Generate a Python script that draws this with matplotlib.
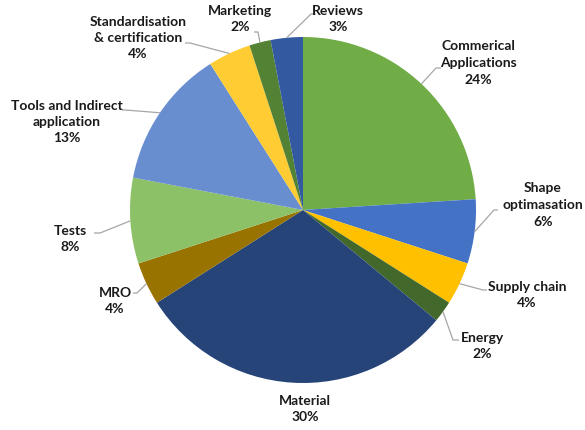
import matplotlib
matplotlib.use("Agg")
import matplotlib.pyplot as plt
import numpy as np

categories = ["Commerical\nApplications", "Shape\noptimasation", "Supply chain", "Energy",
              "Material", "MRO", "Tests", "Tools and Indirect\napplication",
              "Standardisation\n& certification", "Marketing", "Reviews"]
values = [24, 6, 4, 2, 30, 4, 8, 13, 4, 2, 3]
colors = ["#70AD47", "#4472C4", "#FFC000", "#43682B", "#264478", "#997300",
          "#8CC168", "#698ED0", "#FFCD33", "#548235", "#335AA1"]

W, H = 585, 430
fig = plt.figure(figsize=(W / 100, H / 100), dpi=100)
ax = fig.add_axes([0, 0, 1, 1])

cx, cy, r = 303, H - 210, 173
ax.pie(values, colors=colors, startangle=90, counterclock=False,
       center=(cx, cy), radius=r, frame=True,
       wedgeprops=dict(linewidth=0))
ax.set_xlim(0, W)
ax.set_ylim(0, H)
ax.set_aspect("equal")
ax.axis("off")

# label layout (pixel coords, y from top): text center, leader elbow, leader end
layout = [
    ((478, 63), (436, 68), (441, 68)),
    ((543, 205), (494, 210), (498, 210)),
    ((527, 295), (483, 290), (487, 290)),
    ((482, 346), (453, 340), (459, 340)),
    ((305, 409), None, None),
    ((115, 301), (137, 293), (133, 293)),
    ((70, 239), (100, 233), (94, 233)),
    ((67, 122), (125, 110), (122, 110)),
    ((138, 38), (190, 43), (185, 43)),
    ((240, 19), (258, 32), (254, 32)),
    ((338, 19), (311, 14), (316, 14)),
]

total = float(sum(values))
cum = 0.0
for cat, v, (tpos, elbow, end) in zip(categories, values, layout):
    mid = (cum + v / 2) / total
    cum += v
    ang = np.deg2rad(90 - 360 * mid)
    ex, ey = cx + r * np.cos(ang), cy + r * np.sin(ang)
    pct = f"{int(round(100 * v / total))}%"
    ax.text(tpos[0], H - tpos[1], f"{cat}\n{pct}", ha="center", va="center",
            fontsize=10, fontweight="bold", family=["Lato", "DejaVu Sans"],
            color="#1a1a1a", linespacing=1.45)
    if elbow is not None:
        ax.plot([ex, elbow[0], end[0]], [ey, H - elbow[1], H - end[1]],
                color="#A6A6A6", lw=0.9, solid_capstyle="butt")

fig.savefig("out.png", dpi=100, facecolor="white")
